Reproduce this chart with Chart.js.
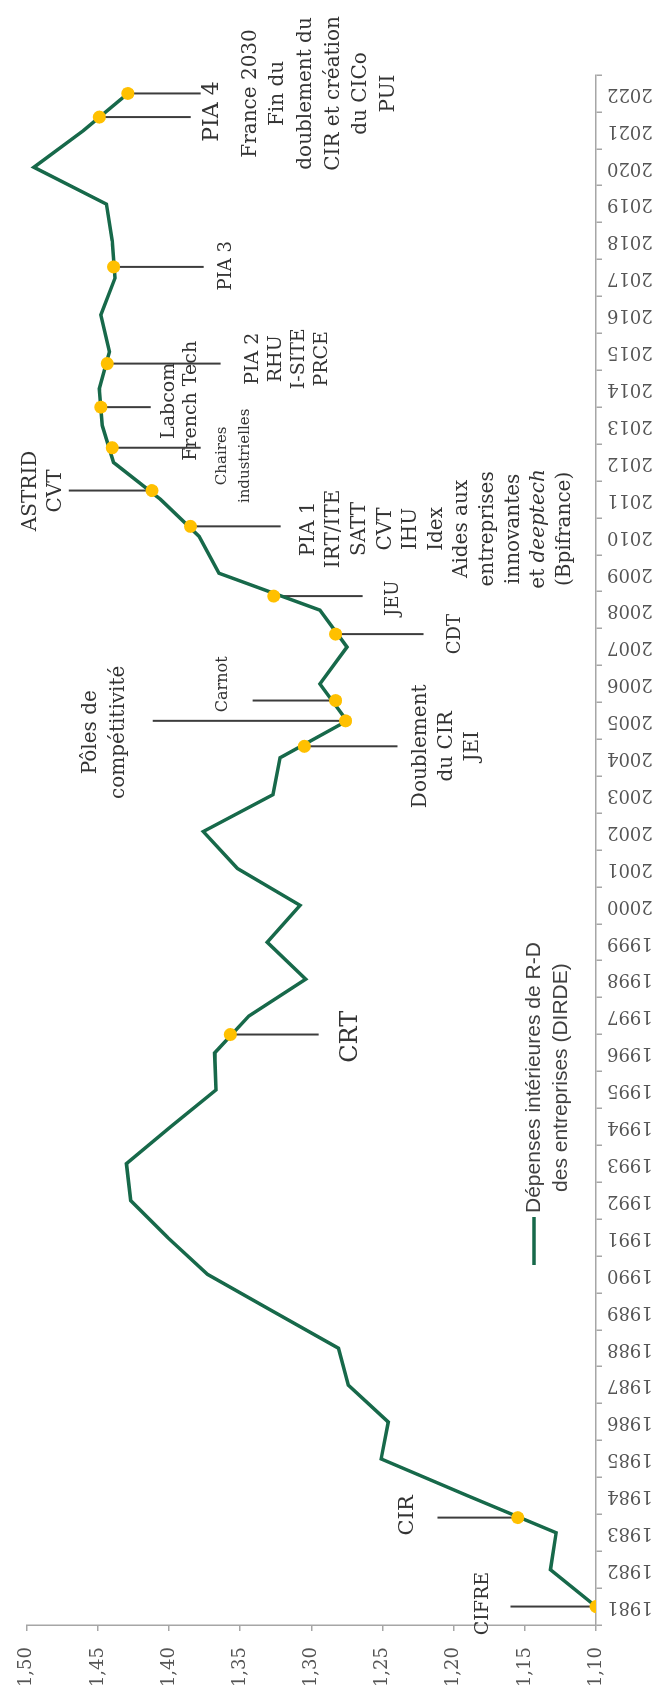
<!DOCTYPE html>
<html><head><meta charset="utf-8">
<script src="https://cdn.jsdelivr.net/npm/chart.js@4.4.1/dist/chart.umd.min.js"></script>
<style>
html,body{margin:0;padding:0;background:#fff;overflow:hidden;width:663px;height:1695px;}
#wrap{position:absolute;left:0;top:0;width:1695px;height:663px;transform-origin:0 0;transform:translateY(1695px) rotate(-90deg);background:#fff;}
canvas{display:block}
</style></head><body>
<div id="wrap"><canvas id="c" width="1695" height="663"></canvas></div>
<script>
// ---- data ----
const years = [1981,1982,1983,1984,1985,1986,1987,1988,1989,1990,1991,1992,1993,1994,1995,1996,1997,1998,1999,2000,2001,2002,2003,2004,2005,2006,2007,2008,2009,2010,2011,2012,2013,2014,2015,2016,2017,2018,2019,2020,2021,2022];
const dirde = [1.100,1.132,1.128,1.190,1.251,1.246,1.274,1.281,1.327,1.373,1.401,1.427,1.430,1.399,1.367,1.368,1.344,1.304,1.331,1.308,1.352,1.376,1.327,1.322,1.275,1.294,1.275,1.294,1.365,1.379,1.406,1.439,1.447,1.449,1.442,1.448,1.438,1.440,1.444,1.495,1.460,1.429];
const yearLabels = years.map(String);
const valueTicks = [1.10,1.15,1.20,1.25,1.30,1.35,1.40,1.45,1.50];
const valueLabels = ['1,10','1,15','1,20','1,25','1,30','1,35','1,40','1,45','1,50'];
const seriesName = ['Dépenses intérieures de R-D', 'des entreprises (DIRDE)'];

const eventYears  = [1981.0,1983.41,1996.5,2004.31,2005.0,2005.55,2007.35,2008.38,2010.27,2011.24,2012.4,2013.5,2014.68,2017.3,2021.36,2022.0];
const eventValues = [1.100,1.155,1.357,1.305,1.276,1.283,1.283,1.3265,1.385,1.412,1.440,1.448,1.4435,1.439,1.449,1.429];
const eventTexts = [
  ['CIFRE'],
  ['CIR'],
  ['CRT'],
  ['Doublement','du CIR','JEI'],
  ['Pôles de','compétitivité'],
  ['Carnot'],
  ['CDT'],
  ['JEU'],
  ['PIA 1','IRT/ITE','SATT','CVT','IHU','Idex','Aides aux','entreprises','innovantes','et *deeptech*','(Bpifrance)'],
  ['ASTRID','CVT'],
  ['Chaires','industrielles'],
  ['Labcom','French Tech'],
  ['PIA 2','RHU','I-SITE','PRCE'],
  ['PIA 3'],
  ['France 2030','Fin du','doublement du','CIR et création','du CICo','PUI'],
  ['PIA 4']
];

// ---- annotation layout (positions in data units, sizes in px) ----
const leaderEnds = [1.1601,1.2114,1.2949,1.2395,1.4115,1.3413,1.2212,1.264,1.3216,1.4705,1.3778,1.4129,1.3638,1.3757,1.3848,1.3778];
const textYears  = [1981.08,1983.47,1996.44,2004.31,2004.69,2005.99,2007.35,2008.32,2010.2,2011.23,2012.18,2013.67,2014.81,2017.33,2022.0,2021.51];
const textValues = [1.1791,1.2324,1.2725,1.2233,1.4551,1.3624,1.1987,1.2423,1.302,1.4972,1.3624,1.4003,1.3413,1.3596,1.3427,1.3694];
const textSizes  = [19,21,24,20,20,16,18,18,20,20,15,19,19,18,20,22];
const lineHeights= [0,0,0,26,28,0,0,0,25.6,25,23,22,23,0,27.6,0];

const SERIF = '"DejaVu Serif", "Liberation Serif", serif';
const SANS = '"Liberation Sans", Arial, sans-serif';
const GREEN = '#17694a';
const GOLD = '#FFC000';
const AXIS = '#a6a6a6';
const TXT = '#333333';

function drawRich(ctx, line, x, y, size) {
  const parts = line.split('*');
  const fonts = parts.map((p, k) => (k % 2 ? 'italic ' : '') + size + 'px ' + SERIF);
  let total = 0;
  const widths = parts.map((p, k) => { ctx.font = fonts[k]; const w = ctx.measureText(p).width; total += w; return w; });
  let cx = x - total / 2;
  ctx.textAlign = 'left';
  parts.forEach((p, k) => { ctx.font = fonts[k]; ctx.fillText(p, cx, y); cx += widths[k]; });
}

const annot = {
  id: 'annot',
  beforeDatasetsDraw(chart) {
    const {ctx, scales: {x: xs, y: ys}} = chart;
    ctx.save();
    ctx.strokeStyle = '#3c3c3c';
    ctx.lineWidth = 2;
    eventYears.forEach((yr, i) => {
      const px = xs.getPixelForValue(yr);
      ctx.beginPath();
      ctx.moveTo(px, ys.getPixelForValue(eventValues[i]));
      ctx.lineTo(px, ys.getPixelForValue(leaderEnds[i]));
      ctx.stroke();
    });
    ctx.restore();
  },
  afterDatasetsDraw(chart) {
    const {ctx, scales: {x: xs, y: ys}} = chart;
    ctx.save();
    ctx.fillStyle = TXT;
    ctx.textBaseline = 'middle';
    eventTexts.forEach((lines, i) => {
      const px = xs.getPixelForValue(textYears[i]);
      const py = ys.getPixelForValue(textValues[i]);
      lines.forEach((ln, j) => drawRich(ctx, ln, px, py + j * lineHeights[i], textSizes[i]));
    });
    // legend
    const ca = chart.chartArea;
    const ly = ys.getPixelForValue(1.1435);
    const lx0 = ca.left + 360, lx1 = ca.left + 408;
    ctx.strokeStyle = GREEN; ctx.lineWidth = 3.5;
    ctx.beginPath(); ctx.moveTo(lx0, ly); ctx.lineTo(lx1, ly); ctx.stroke();
    ctx.fillStyle = '#404040';
    ctx.font = '21px ' + SANS;
    ctx.textAlign = 'left';
    const w1 = ctx.measureText(seriesName[0]).width;
    ctx.fillText(seriesName[0], lx1 + 4, ly);
    ctx.textAlign = 'center';
    ctx.fillText(seriesName[1], lx1 + 4 + w1 / 2, ly + 27);
    ctx.restore();
  }
};

new Chart(document.getElementById('c'), {
  type: 'line',
  data: {
    datasets: [
      { label: seriesName.join(' '), data: years.map((y, i) => ({x: y, y: dirde[i]})),
        borderColor: GREEN, borderWidth: 3.5, pointRadius: 0, tension: 0, order: 2, fill: false },
      { label: 'Mesures', data: eventYears.map((y, i) => ({x: y, y: eventValues[i]})),
        showLine: false, pointRadius: 6.5, pointBackgroundColor: GOLD, pointBorderWidth: 0, order: 1 }
    ]
  },
  options: {
    responsive: false, animation: false, devicePixelRatio: 1,
    layout: {padding: {top: 26, right: 75, left: 0, bottom: 0}},
    plugins: {legend: {display: false}, tooltip: {enabled: false}},
    scales: {
      x: {
        type: 'linear', min: 1980.5, max: 2022.5,
        afterBuildTicks: s => { s.ticks = years.map(v => ({value: v})); },
        afterFit: s => { s.height = 67; },
        ticks: {minRotation: 90, maxRotation: 90, autoSkip: false, padding: 5,
          font: {family: SERIF, size: 18}, color: '#555555',
          callback: (v, i) => yearLabels[i]},
        grid: {drawOnChartArea: false, offset: true, tickLength: 6, color: AXIS, lineWidth: 1.5},
        border: {color: AXIS, width: 1.5}
      },
      y: {
        type: 'linear', min: 1.10, max: 1.50,
        afterBuildTicks: s => { s.ticks = valueTicks.map(v => ({value: v})); },
        afterFit: s => { s.width = 70; },
        ticks: {padding: 16, font: {family: SERIF, size: 18}, color: '#555555',
          callback: (v, i) => valueLabels[i]},
        grid: {drawOnChartArea: false, tickLength: 6, color: AXIS, lineWidth: 1.5},
        border: {color: AXIS, width: 1.5}
      }
    }
  },
  plugins: [annot]
});
</script>
</body></html>
